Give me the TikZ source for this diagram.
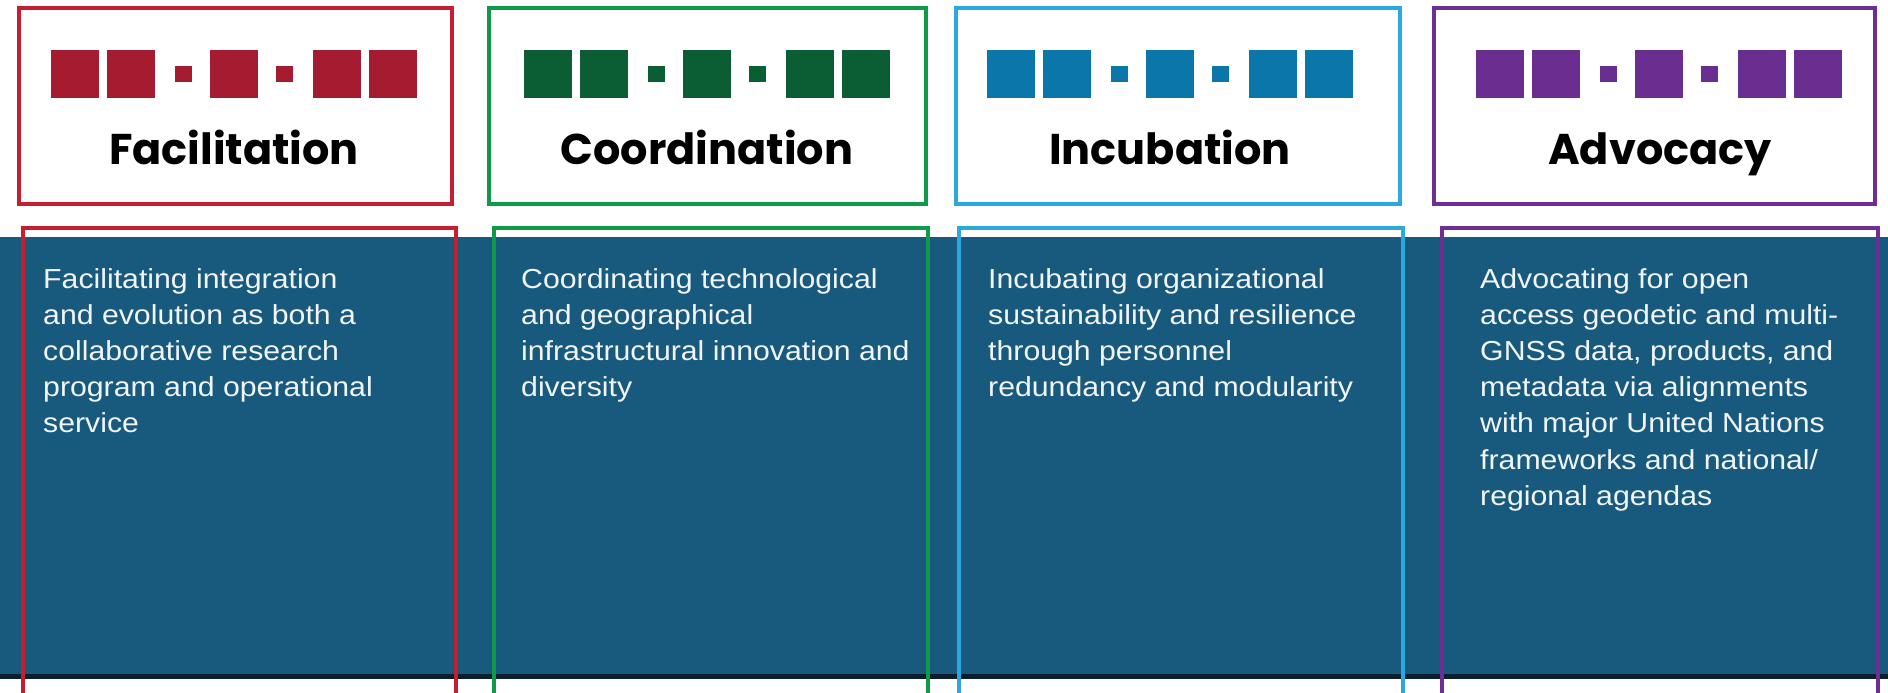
\documentclass[tikz,border=0pt]{standalone}
\usepackage{fontspec}
\setmainfont{Liberation Sans}[FakeStretch=1.1]
\newfontfamily\headfont{Poppins}
\definecolor{redline}{HTML}{C31F30}
\definecolor{redsq}{HTML}{A51C30}
\definecolor{greenline}{HTML}{0E9A48}
\definecolor{greensq}{HTML}{0B5E34}
\definecolor{cyanline}{HTML}{2BA8E0}
\definecolor{cyansq}{HTML}{0A76AA}
\definecolor{purpleline}{HTML}{6E2E96}
\definecolor{purplesq}{HTML}{6A2E91}
\definecolor{band}{HTML}{175A7E}
\definecolor{bandedge}{HTML}{0B1E2B}
\definecolor{bodytext}{HTML}{F2F4F5}
\tikzset{
  topbox/.style={draw=#1, line width=4pt, inner sep=0pt},
  lowbox/.style={draw=#1, line width=4pt},
  headtext/.style={anchor=base, inner sep=0pt, text=black, font=\headfont\bfseries\fontsize{43}{43}\selectfont},
  bodynode/.style={anchor=north west, inner sep=0pt, align=left, text=bodytext, font=\fontsize{27.5}{36.2}\selectfont},
  sqrow/.pic={
    \fill (-183,50) rectangle (-135,98);
    \fill (-127,50) rectangle (-79,98);
    \fill (-59,66) rectangle (-42,82);
    \fill (-24,50) rectangle (24,98);
    \fill (42,66) rectangle (59,82);
    \fill (79,50) rectangle (127,98);
    \fill (135,50) rectangle (183,98);
  }
}
\begin{document}
\begin{tikzpicture}[x=1pt, y=-1pt]
\useasboundingbox (0,0) rectangle (1888,693);
\fill[white] (0,0) rectangle (1888,693);
% band
\fill[band] (0,237) rectangle (1888,675);
\fill[bandedge] (0,674) rectangle (1888,679);
% top boxes
\node[topbox=redline, minimum width=433pt, minimum height=196pt] (tb1) at (235.5,106) {};
\node[topbox=greenline, minimum width=437pt, minimum height=196pt] (tb2) at (707.5,106) {};
\node[topbox=cyanline, minimum width=444pt, minimum height=196pt] (tb3) at (1178,106) {};
\node[topbox=purpleline, minimum width=441pt, minimum height=196pt] (tb4) at (1654.5,106) {};
% square rows
\pic[redsq] at (234,0) {sqrow};
\pic[greensq] at (707,0) {sqrow};
\pic[cyansq] at (1170,0) {sqrow};
\pic[purplesq] at (1659,0) {sqrow};
% headers
\node[headtext] (h1) at (234,164) {Facilitation};
\node[headtext] (h2) at (707,164) {Coordination};
\node[headtext] (h3) at (1170,164) {Incubation};
\node[headtext] (h4) at (1660,164) {Advocacy};
% lower boxes (open at bottom)
\coordinate (l1a) at (23,693); \coordinate (l1b) at (456,693);
\coordinate (l2a) at (494,693); \coordinate (l2b) at (928,693);
\coordinate (l3a) at (959,693); \coordinate (l3b) at (1403,693);
\coordinate (l4a) at (1442,693); \coordinate (l4b) at (1878,693);
\draw[lowbox=redline] (l1a) -- (23,228) -- (456,228) -- (l1b);
\draw[lowbox=greenline] (l2a) -- (494,228) -- (928,228) -- (l2b);
\draw[lowbox=cyanline] (l3a) -- (959,228) -- (1403,228) -- (l3b);
\draw[lowbox=purpleline] (l4a) -- (1442,228) -- (1878,228) -- (l4b);
% body texts
\node[bodynode] (t1) at (43,268) {Facilitating integration\\and evolution as both a\\collaborative research\\program and operational\\service};
\node[bodynode] (t2) at (521,268) {Coordinating technological\\and geographical\\infrastructural innovation and\\diversity};
\node[bodynode] (t3) at (988,268) {Incubating organizational\\sustainability and resilience\\through personnel\\redundancy and modularity};
\node[bodynode] (t4) at (1480,268) {Advocating for open\\access geodetic and multi-\\GNSS data, products, and\\metadata via alignments\\with major United Nations\\frameworks and national/\\regional agendas};
\end{tikzpicture}
\end{document}
